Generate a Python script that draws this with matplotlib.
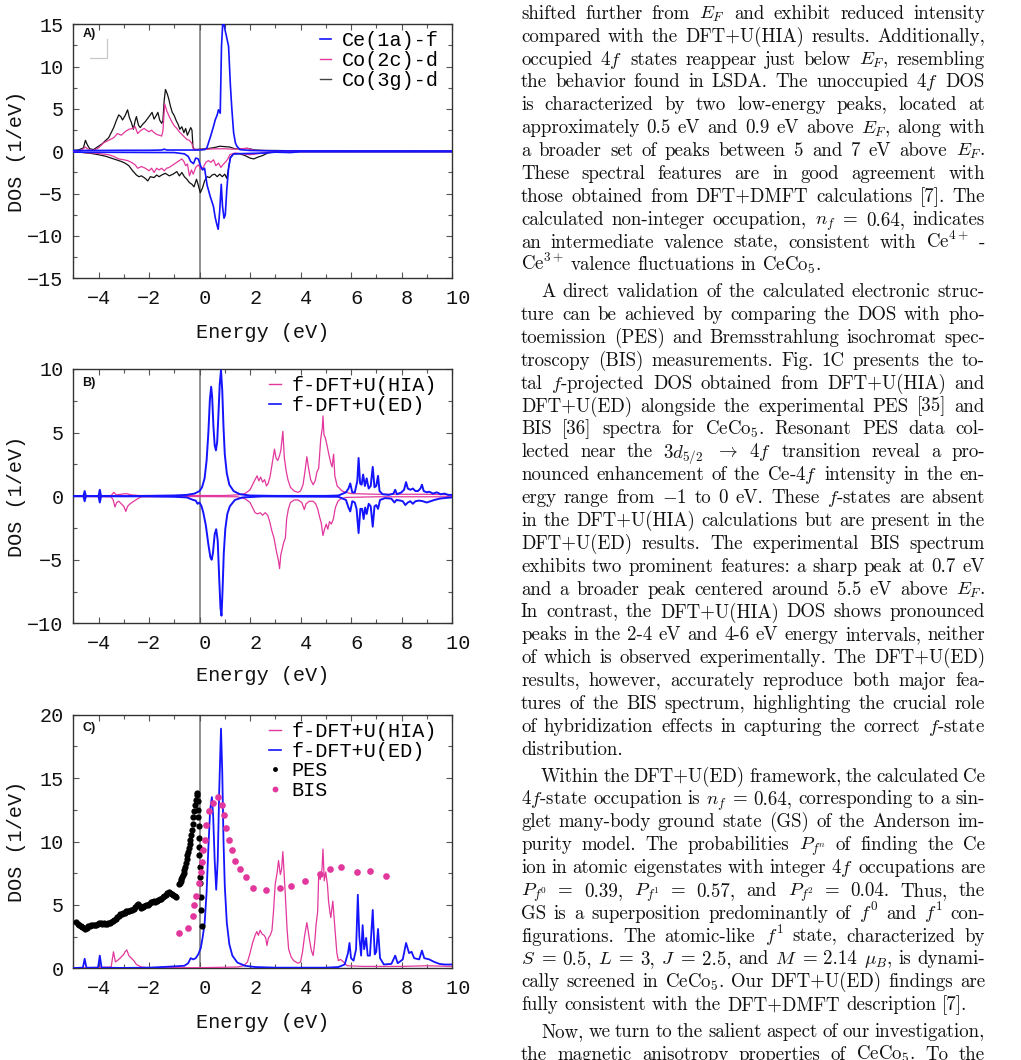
import numpy as np
import matplotlib
matplotlib.use("Agg")
import matplotlib.pyplot as plt
from matplotlib.ticker import MultipleLocator
from matplotlib.lines import Line2D

plt.rcParams['font.family'] = ['Liberation Mono', 'DejaVu Sans Mono']
plt.rcParams['mathtext.fontset'] = 'cm'
plt.rcParams['axes.unicode_minus'] = True

# ---------------- data: panel A (spin-resolved partial DOS) ----------------
ce_up_e = [-5.0, -4.0, -3.0, -2.0, -1.5, -1.4, -1.3, -0.5, 0.0, 0.2, 0.29, 0.42, 0.55, 0.62, 0.7, 0.75,
           0.82, 0.87, 0.92, 0.97, 1.02, 1.08, 1.15, 1.22, 1.28, 1.35, 1.42, 1.48, 1.6, 2.0, 3.0, 4.0, 10.0]
ce_up_v = [0.1, 0.1, 0.12, 0.12, 0.15, 0.25, 0.15, 0.15, 0.15, 0.2, 0.4, 1.6, 2.9, 3.7, 4.3, 4.9,
           4.5, 12.4, 15.2, 15.0, 14.2, 13.4, 12.4, 7.9, 5.0, 2.2, 1.0, 0.6, 0.2, 0.1, 0.05, 0.05, 0.03]
ce_dn_e = [-5.0, -1.0, -0.6, -0.45, -0.35, -0.24, -0.15, -0.05, 0.05, 0.12, 0.2, 0.3, 0.42, 0.55, 0.62,
           0.69, 0.74, 0.8, 0.86, 0.91, 0.97, 1.02, 1.08, 1.15, 1.22, 1.35, 2.0, 2.6, 3.0, 3.6, 4.0, 10.0]
ce_dn_v = [-0.1, -0.15, -0.3, -0.6, -1.2, -1.46, -0.8, -0.9, -1.8, -2.2, -2.0, -4.0, -5.3, -6.5, -7.8,
           -8.7, -9.2, -7.0, -3.9, -6.5, -7.9, -7.5, -4.5, -2.0, -0.8, -0.3, -0.25, -0.2, -0.1, -0.15, -0.05, -0.05]

co2c_up_e = [-5.0, -4.7, -4.52, -4.4, -4.2, -4.0, -3.8, -3.6, -3.4, -3.25, -3.1, -2.95, -2.8, -2.65, -2.55,
             -2.45, -2.35, -2.2, -2.1, -2.0, -1.9, -1.8, -1.7, -1.6, -1.5, -1.45, -1.38, -1.3, -1.2, -1.1,
             -1.0, -0.9, -0.8, -0.7, -0.6, -0.5, -0.4, -0.3, -0.25, -0.1, 0.3, 0.7, 1.0, 1.3, 1.6, 1.9,
             2.2, 3.0, 5.0, 7.0, 8.5, 10.0]
co2c_up_v = [0.05, 0.1, 0.5, 0.2, 0.1, 0.4, 1.0, 1.3, 1.6, 2.1, 1.9, 2.3, 2.6, 2.7, 2.9,
             2.1, 2.4, 2.7, 2.5, 2.3, 2.5, 2.2, 2.0, 1.9, 1.8, 2.4, 5.6, 4.8, 4.1, 3.5,
             3.0, 2.7, 2.3, 2.0, 1.7, 1.4, 1.3, 0.9, 0.3, 0.2, 0.25, 0.3, 0.3, 0.25, 0.3, 0.35,
             0.1, 0.05, 0.05, 0.05, 0.0, 0.05]
co2c_dn_e = [-5.0, -4.6, -4.2, -3.9, -3.6, -3.4, -3.2, -3.0, -2.85, -2.7, -2.55, -2.45, -2.3, -2.15, -2.0,
             -1.9, -1.8, -1.7, -1.6, -1.5, -1.4, -1.3, -1.2, -1.1, -1.0, -0.9, -0.8, -0.7, -0.62, -0.55,
             -0.48, -0.4, -0.32, -0.25, -0.15, -0.05, 0.05, 0.15, 0.25, 0.35, 0.45, 0.55, 0.65, 0.75,
             0.85, 0.95, 1.05, 1.12, 1.2, 1.4, 1.7, 2.0, 2.3, 2.6, 3.0, 10.0]
co2c_dn_v = [0.0, -0.15, -0.2, -0.3, -0.4, -0.6, -0.9, -1.0, -1.1, -1.3, -1.6, -2.0, -1.8, -2.0, -2.3,
             -2.0, -2.5, -2.0, -2.2, -2.0, -2.3, -2.0, -1.9, -1.7, -1.5, -1.3, -1.1, -0.9, -1.2, -1.7,
             -1.5, -2.9, -2.2, -2.7, -1.9, -1.6, -2.1, -1.9, -1.3, -1.1, -1.3, -1.0, -1.7, -1.4,
             -1.9, -1.5, -1.2, -0.9, -0.4, -0.2, -0.3, -0.4, -0.3, -0.15, -0.05, -0.05]

co3g_up_e = [-5.0, -4.8, -4.6, -4.52, -4.45, -4.35, -4.2, -4.0, -3.85, -3.75, -3.6, -3.5, -3.4, -3.3, -3.2,
             -3.12, -3.05, -2.95, -2.85, -2.78, -2.7, -2.62, -2.55, -2.5, -2.42, -2.35, -2.25, -2.15, -2.05,
             -1.95, -1.88, -1.8, -1.72, -1.65, -1.58, -1.5, -1.45, -1.4, -1.35, -1.28, -1.22, -1.15, -1.08,
             -1.0, -0.92, -0.85, -0.78, -0.7, -0.62, -0.55, -0.48, -0.42, -0.35, -0.3, -0.26, -0.2, 0.0,
             0.3, 0.6, 0.8, 1.0, 1.2, 1.4, 1.7, 1.9, 2.2, 2.6, 3.0, 4.0, 6.0, 8.0, 10.0]
co3g_up_v = [0.1, 0.15, 0.4, 1.3, 0.8, 0.3, 0.2, 0.6, 0.9, 1.2, 1.6, 2.2, 2.8, 3.6, 4.3,
             4.1, 3.7, 4.2, 4.9, 4.0, 3.4, 2.6, 3.6, 4.1, 3.1, 2.8, 3.2, 3.5, 3.9,
             4.3, 4.6, 3.8, 4.2, 4.6, 3.7, 3.3, 3.6, 6.0, 7.3, 6.8, 6.2, 5.3, 4.6,
             4.2, 3.6, 3.2, 2.6, 2.9, 2.2, 2.7, 1.9, 2.3, 2.8, 2.5, 0.5, 0.2, 0.25,
             0.3, 0.45, 0.6, 0.55, 0.5, 0.3, 0.3, 0.35, 0.15, 0.1, 0.1, 0.05, 0.05, 0.05, 0.05]
co3g_dn_e = [-5.0, -4.6, -4.3, -4.0, -3.7, -3.5, -3.3, -3.1, -2.95, -2.8, -2.65, -2.5, -2.4, -2.3, -2.15,
             -2.05, -1.95, -1.8, -1.7, -1.6, -1.5, -1.35, -1.2, -1.05, -0.9, -0.8, -0.7, -0.6, -0.5, -0.4,
             -0.3, -0.22, -0.12, -0.05, 0.03, 0.12, 0.2, 0.3, 0.4, 0.5, 0.6, 0.7, 0.8, 0.9, 1.0, 1.08,
             1.15, 1.22, 1.35, 1.6, 1.8, 2.0, 2.15, 2.3, 2.5, 2.7, 3.0, 10.0]
co3g_dn_v = [0.0, -0.15, -0.25, -0.4, -0.6, -0.8, -1.0, -1.2, -1.4, -1.7, -2.3, -2.8, -3.0, -2.9, -3.2,
             -3.5, -3.0, -3.1, -2.8, -3.0, -2.8, -2.6, -2.9, -2.7, -2.4, -2.9, -2.5, -3.0, -3.3, -3.7,
             -3.9, -4.2, -3.3, -4.0, -4.9, -4.3, -3.5, -3.0, -3.1, -2.8, -2.7, -3.0, -2.7, -3.0, -2.7, -3.2,
             -2.0, -0.7, -0.3, -0.3, -0.5, -0.8, -0.9, -0.7, -0.5, -0.2, -0.05, -0.05]

# ---------------- data: panel B (spin-resolved f DOS) ----------------
hiaB_up_e = [-5.0, -3.5, -3.4, -3.3, -3.1, -2.9, -2.7, -2.4, -1.5, 0.0, 1.0, 1.5, 1.8, 2.0, 2.1, 2.2, 2.28,
             2.35, 2.42, 2.5, 2.58, 2.65, 2.72, 2.8, 2.88, 2.97, 3.03, 3.1, 3.17, 3.22, 3.3, 3.36, 3.43,
             3.5, 3.6, 3.75, 3.9, 4.0, 4.1, 4.18, 4.25, 4.32, 4.4, 4.5, 4.58, 4.65, 4.72, 4.8, 4.86, 4.89,
             4.93, 4.98, 5.05, 5.12, 5.2, 5.25, 5.31, 5.36, 5.45, 5.55, 5.65, 5.8, 6.0, 7.0, 8.0, 9.0, 10.0]
hiaB_up_v = [0.02, 0.05, 0.3, 0.1, 0.15, 0.2, 0.1, 0.05, 0.05, 0.05, 0.05, 0.1, 0.2, 0.5, 0.9, 1.3, 1.6,
             1.2, 1.5, 1.1, 1.3, 0.8, 1.0, 1.6, 2.6, 3.7, 3.0, 2.8, 3.2, 3.6, 5.1, 3.0, 2.0,
             1.3, 0.7, 0.4, 0.3, 0.4, 0.9, 2.0, 3.1, 2.2, 1.3, 0.9, 1.2, 1.9, 2.2, 4.5, 5.3, 6.3,
             4.8, 4.6, 4.0, 3.3, 2.6, 2.3, 3.3, 1.6, 0.8, 0.6, 0.4, 0.3, 0.2, 0.15, 0.15, 0.15, 0.1]
hiaB_dn_e = [-5.0, -3.5, -3.42, -3.35, -3.28, -3.2, -3.1, -3.0, -2.92, -2.85, -2.75, -2.6, -2.45, -2.3, -1.0,
             1.5, 1.8, 2.0, 2.1, 2.2, 2.3, 2.4, 2.5, 2.6, 2.7, 2.78, 2.86, 2.95, 3.05, 3.12, 3.17, 3.22,
             3.28, 3.34, 3.4, 3.45, 3.52, 3.6, 3.75, 3.9, 4.05, 4.15, 4.22, 4.35, 4.5, 4.6, 4.68, 4.75,
             4.82, 4.89, 4.95, 5.02, 5.08, 5.15, 5.22, 5.3, 5.38, 5.48, 5.6, 5.8, 7.0, 10.0]
hiaB_dn_v = [-0.02, -0.05, -0.3, -0.85, -0.5, -0.4, -0.6, -0.8, -1.2, -0.8, -0.6, -0.4, -0.2, -0.05, -0.02,
             -0.05, -0.2, -0.5, -0.9, -1.3, -1.4, -1.3, -1.5, -1.3, -1.5, -2.0, -2.7, -3.3, -4.4, -5.0, -5.7, -4.6,
             -4.1, -3.6, -3.3, -1.8, -1.0, -0.5, -0.3, -0.3, -0.5, -1.05, -0.6, -0.4, -0.4, -0.6, -1.0, -1.6,
             -2.1, -3.1, -2.6, -2.2, -2.6, -2.0, -2.2, -1.8, -0.9, -0.4, -0.2, -0.1, -0.05, -0.05]

edB_up_e = [-5.0, -4.6, -4.55, -4.5, -4.0, -3.95, -3.9, -3.0, -2.0, -1.0, -0.5, -0.2, 0.0, 0.1, 0.2, 0.28,
            0.35, 0.41, 0.46, 0.5, 0.55, 0.6, 0.65, 0.7, 0.75, 0.8, 0.85, 0.9, 0.95, 1.0, 1.08, 1.18, 1.35,
            1.6, 2.0, 3.0, 5.0, 5.5, 5.8, 5.9, 5.97, 6.05, 6.15, 6.25, 6.3, 6.36, 6.42, 6.48, 6.55, 6.62,
            6.7, 6.78, 6.86, 6.93, 7.0, 7.07, 7.13, 7.25, 7.5, 7.68, 7.75, 7.82, 8.0, 8.1, 8.18, 8.25, 8.35,
            8.45, 8.55, 8.65, 8.75, 8.81, 8.88, 9.0, 9.1, 9.25, 9.4, 9.55, 9.7, 9.85, 10.0]
edB_up_v = [0.0, 0.0, 0.4, 0.0, 0.0, 0.5, 0.0, 0.0, 0.02, 0.05, 0.1, 0.2, 0.4, 0.7, 1.4, 2.8,
            5.0, 7.6, 8.6, 7.8, 5.5, 4.0, 3.6, 4.3, 6.5, 8.8, 9.9, 8.3, 5.4, 3.3, 1.8, 0.9, 0.4,
            0.15, 0.05, 0.02, 0.02, 0.05, 0.3, 0.6, 1.0, 0.3, 0.3, 1.2, 3.0, 1.0, 0.9, 1.7, 0.8, 1.4,
            0.6, 0.8, 2.3, 0.7, 0.8, 1.6, 0.4, 0.15, 0.1, 0.2, 0.5, 0.15, 0.3, 0.5, 1.1, 0.6, 0.5,
            0.6, 0.4, 0.4, 0.6, 0.9, 0.4, 0.3, 0.35, 0.2, 0.3, 0.15, 0.2, 0.1, 0.1]
edB_dn_e = [-5.0, -4.6, -4.55, -4.5, -4.0, -3.95, -3.9, -2.0, -1.0, -0.5, -0.25, -0.15, -0.08, 0.0, 0.08,
            0.15, 0.25, 0.35, 0.43, 0.48, 0.53, 0.6, 0.66, 0.72, 0.78, 0.83, 0.87, 0.91, 0.96, 1.02, 1.1,
            1.2, 1.4, 1.7, 2.5, 5.5, 5.8, 5.9, 5.97, 6.05, 6.15, 6.22, 6.3, 6.37, 6.44, 6.5, 6.56, 6.62,
            6.7, 6.78, 6.86, 6.93, 7.0, 7.07, 7.15, 7.35, 7.6, 7.72, 7.8, 7.95, 8.05, 8.15, 8.25, 8.35,
            8.45, 8.55, 8.7, 8.85, 9.0, 9.15, 9.3, 9.5, 9.7, 10.0]
edB_dn_v = [0.0, 0.0, -0.4, 0.0, 0.0, -0.5, 0.0, -0.02, -0.05, -0.1, -0.3, -0.35, -0.6, -0.5, -0.8,
            -1.3, -2.3, -3.8, -4.8, -5.0, -4.5, -3.0, -2.6, -3.5, -6.5, -8.8, -9.4, -7.5, -4.5, -2.6, -1.4,
            -0.8, -0.3, -0.1, -0.02, -0.05, -0.3, -0.9, -1.2, -0.4, -0.5, -1.0, -2.9, -1.0, -1.0, -1.8, -0.9, -1.4,
            -0.6, -0.8, -2.4, -0.8, -0.7, -1.0, -0.3, -0.15, -0.2, -0.5, -0.3, -0.35, -0.4, -0.7, -0.5, -0.4,
            -0.6, -0.4, -0.35, -0.4, -0.5, -0.4, -0.3, -0.2, -0.15, -0.1]

# ---------------- data: panel C (total f DOS + experiment) ----------------
hiaC_e = [-5.0, -3.5, -3.41, -3.33, -3.2, -3.1, -3.0, -2.95, -2.88, -2.8, -2.7, -2.6, -2.5, -2.3, -2.0, 0.0,
          1.5, 1.75, 1.9, 2.0, 2.1, 2.2, 2.27, 2.33, 2.4, 2.48, 2.56, 2.62, 2.67, 2.73, 2.8, 2.87, 2.93,
          3.0, 3.07, 3.13, 3.2, 3.25, 3.3, 3.35, 3.4, 3.47, 3.53, 3.63, 3.73, 3.9, 4.0, 4.08, 4.15, 4.25,
          4.3, 4.36, 4.43, 4.5, 4.56, 4.62, 4.68, 4.72, 4.78, 4.85, 4.89, 4.94, 5.0, 5.07, 5.11, 5.16,
          5.2, 5.28, 5.33, 5.38, 5.44, 5.5, 5.58, 5.65, 5.75, 5.85, 6.5, 8.0, 9.0, 10.0]
hiaC_v = [0.02, 0.1, 1.3, 0.5, 0.7, 0.9, 1.1, 1.3, 1.45, 1.0, 0.8, 0.6, 0.3, 0.1, 0.05, 0.05,
          0.1, 0.2, 0.5, 1.2, 2.0, 2.6, 2.9, 2.6, 3.0, 2.7, 2.6, 2.4, 1.8, 2.4, 2.6, 3.0, 4.5,
          6.7, 7.5, 8.5, 7.4, 7.8, 9.2, 7.5, 5.7, 3.0, 1.5, 0.9, 0.6, 0.4, 0.5, 1.3, 2.4, 3.6,
          3.0, 2.2, 1.4, 1.0, 2.0, 3.5, 4.5, 7.4, 7.0, 7.8, 9.4, 6.9, 7.6, 6.5, 5.3, 4.5,
          4.0, 5.3, 4.0, 2.7, 1.2, 0.6, 0.7, 0.6, 0.4, 0.2, 0.15, 0.15, 0.2, 0.15]
edC_e = [-5.0, -4.62, -4.55, -4.48, -4.02, -3.95, -3.88, -3.0, -2.0, -1.5, -1.0, -0.6, -0.45, -0.35, -0.25,
         -0.15, -0.05, 0.05, 0.12, 0.2, 0.28, 0.35, 0.42, 0.49, 0.54, 0.6, 0.66, 0.72, 0.78, 0.85, 0.9,
         0.95, 1.0, 1.08, 1.18, 1.3, 1.5, 1.8, 2.2, 3.0, 5.0, 5.5, 5.75, 5.88, 5.94, 6.0, 6.1, 6.2, 6.27,
         6.33, 6.4, 6.46, 6.52, 6.6, 6.66, 6.75, 6.86, 6.94, 7.0, 7.07, 7.15, 7.3, 7.6, 7.75, 7.85, 8.05,
         8.18, 8.3, 8.4, 8.5, 8.7, 8.81, 8.9, 9.1, 9.3, 9.5, 9.7, 10.0]
edC_v = [0.02, 0.05, 0.75, 0.05, 0.05, 1.0, 0.05, 0.03, 0.05, 0.1, 0.15, 0.2, 0.4, 0.8, 0.7,
         0.8, 1.1, 1.6, 2.4, 3.5, 6.0, 9.5, 12.5, 13.5, 12.0, 8.5, 6.2, 8.5, 14.0, 18.9, 15.5,
         10.0, 6.5, 3.6, 1.9, 1.0, 0.45, 0.2, 0.1, 0.05, 0.05, 0.1, 0.3, 1.2, 2.0, 0.8, 0.6, 1.5, 5.8,
         2.5, 1.0, 3.4, 1.5, 2.4, 1.0, 1.0, 4.6, 1.1, 1.3, 3.1, 0.8, 0.3, 0.35, 1.0, 0.4, 0.7,
         2.0, 1.2, 1.3, 0.8, 0.7, 1.4, 0.8, 0.7, 0.5, 0.35, 0.3, 0.3]

pes_e = [-4.88, -4.82, -4.76, -4.70, -4.64, -4.58, -4.52, -4.46, -4.40, -4.34, -4.28, -4.22, -4.16, -4.10,
         -4.04, -3.98, -3.92, -3.86, -3.80, -3.74, -3.68, -3.62, -3.56, -3.50, -3.44, -3.38, -3.32, -3.26,
         -3.20, -3.14, -3.08, -3.02, -2.96, -2.90, -2.84, -2.78, -2.72, -2.66, -2.60, -2.54, -2.48, -2.42,
         -2.36, -2.30, -2.24, -2.18, -2.12, -2.06, -2.00, -1.94, -1.88, -1.82, -1.76, -1.70, -1.64, -1.58,
         -1.52, -1.46, -1.40, -1.34, -1.28, -1.22, -1.16, -1.10, -1.04, -0.98, -0.92,
         -0.83, -0.79, -0.75, -0.72, -0.69, -0.66, -0.63, -0.60, -0.57, -0.54, -0.51, -0.48, -0.45, -0.42,
         -0.39, -0.36, -0.33, -0.30, -0.27, -0.24, -0.21, -0.18, -0.15, -0.12, -0.10, -0.08, -0.06, -0.05,
         -0.04, -0.03, -0.02, -0.01, 0.00, 0.02, 0.03, 0.05, 0.07, 0.10]
pes_v = [3.63, 3.5, 3.4, 3.3, 3.25, 3.15, 3.1, 3.15, 3.3, 3.35, 3.4, 3.4, 3.45, 3.45,
         3.5, 3.55, 3.55, 3.5, 3.55, 3.5, 3.5, 3.55, 3.6, 3.65, 3.75, 3.8, 3.9, 4.05,
         4.15, 4.25, 4.3, 4.35, 4.4, 4.5, 4.5, 4.55, 4.6, 4.6, 4.65, 4.8, 5.0, 5.1,
         4.9, 4.75, 4.8, 4.9, 5.0, 5.0, 5.1, 5.2, 5.25, 5.3, 5.25, 5.3, 5.35, 5.45,
         5.5, 5.6, 5.7, 5.8, 5.95, 6.0, 5.9, 5.85, 5.75, 5.7, 5.65,
         6.65, 6.75, 6.9, 7.05, 7.2, 7.35, 7.55, 7.75, 7.95, 8.3, 8.6, 8.9, 9.2, 9.5,
         9.8, 10.1, 10.5, 10.9, 11.4, 11.9, 12.4, 12.9, 13.3, 13.7, 13.8, 13.2, 12.5, 11.9,
         11.2, 10.3, 9.6, 8.9, 8.0, 7.2, 6.7, 5.6, 4.6, 3.3]
bis_e = [-0.81, -0.46, -0.26, -0.23, -0.15, -0.02, 0.05, 0.09, 0.13, 0.2, 0.27, 0.38, 0.52, 0.72, 0.89,
         0.97, 1.04, 1.17, 1.28, 1.42, 1.61, 1.85, 2.1, 2.63, 3.19, 3.63, 4.16, 4.78, 5.17, 5.6, 6.25,
         6.77, 7.38]
bis_v = [2.8, 3.2, 4.1, 5.0, 5.7, 6.7, 7.6, 8.4, 9.3, 10.1, 11.3, 12.4, 13.0, 13.5, 12.9,
         12.1, 11.1, 10.1, 9.3, 8.5, 7.8, 7.2, 6.3, 6.2, 6.3, 6.5, 6.85, 7.4, 7.8, 8.0, 7.6,
         7.7, 7.3]

x_ticks = [-4, -2, 0, 2, 4, 6, 8, 10]
x_labels = ['\u22124', '\u22122', ' 0', ' 2', ' 4', ' 6', ' 8', ' 10']

BLUE = '#1414ff'
PINK = '#e2379c'
BLACK = '#111111'

# ---------------- figure ----------------
W, H = 1021, 1060
fig = plt.figure(figsize=(W / 100, H / 100), dpi=100)


def px_axes(left, top, right, bottom):
    return fig.add_axes([left / W, 1 - bottom / H, (right - left) / W, (bottom - top) / H])


def style(ax, ylim, ystep, label, label_y):
    ax.set_xlim(-5, 10)
    ax.set_ylim(*ylim)
    ax.set_xticks(x_ticks, x_labels)
    ax.xaxis.set_minor_locator(MultipleLocator(1))
    yt = np.arange(ylim[0], ylim[1] + 0.1, ystep)
    ax.set_yticks(yt, [f'{int(v)}'.replace('-', '\u2212') for v in yt])
    ax.yaxis.set_minor_locator(MultipleLocator(ystep / 2))
    ax.tick_params(which='both', direction='in', top=True, right=True, color='#555555', width=0.8,
                   labelsize=14.5, labelcolor='#111111')
    ax.tick_params(which='major', length=4.5)
    ax.tick_params(which='minor', length=3.0)
    ax.tick_params(axis='x', pad=8)
    ax.tick_params(axis='y', pad=7)
    for s in ax.spines.values():
        s.set_color('#333333')
        s.set_linewidth(1.0)
    ax.axvline(0, color='#808080', lw=1.2, zorder=1)
    ax.set_xlabel('Energy (eV)', fontsize=14.5, color='#111111', va='center')
    ax.set_ylabel('DOS (1/eV)', fontsize=14.5, color='#111111', va='center')
    ax.xaxis.set_label_coords(0.5, label_y)
    ax.yaxis.set_label_coords(-0.150, 0.5)
    ax.text(0.024, {'A)': 0.961, 'B)': 0.943, 'C)': 0.949}[label], label, transform=ax.transAxes,
            fontsize=9, fontweight='bold', family=['Liberation Sans', 'DejaVu Sans'], va='center', ha='left',
            color='#111111')


def add_legend(ax, handles, labels, x0):
    ax.legend(handles, labels, loc='upper left', bbox_to_anchor=(x0, 0.972), frameon=False, fontsize=14.5,
              handlelength=0.55, handletextpad=0.55, labelspacing=0.04, borderpad=0, borderaxespad=0)


axA = px_axes(73.3, 24.3, 452, 278.3)
axB = px_axes(73.3, 369, 452, 623.3)
axC = px_axes(73.3, 714.7, 452, 968.3)

# Panel A
style(axA, (-15, 15), 5, 'A)', -0.213)
axA.plot(co3g_up_e, co3g_up_v, color=BLACK, lw=0.9, zorder=2)
axA.plot(co3g_dn_e, co3g_dn_v, color=BLACK, lw=0.9, zorder=2)
axA.plot(co2c_up_e, co2c_up_v, color=PINK, lw=0.9, zorder=3)
axA.plot(co2c_dn_e, co2c_dn_v, color=PINK, lw=0.9, zorder=3)
axA.plot(ce_up_e, ce_up_v, color=BLUE, lw=1.2, zorder=4)
axA.plot(ce_dn_e, ce_dn_v, color=BLUE, lw=1.2, zorder=4)
axA.add_line(Line2D([0.0449, 0.0897, 0.0897], [0.866, 0.866, 0.941], transform=axA.transAxes,
                    color='#c8c8c8', lw=0.9))
hA = [Line2D([], [], color=BLUE, lw=1.2), Line2D([], [], color=PINK, lw=1.0), Line2D([], [], color='#444444', lw=1.0)]
add_legend(axA, hA, ['Ce(1a)-f', 'Co(2c)-d', 'Co(3g)-d'], 0.651)

# Panel B
style(axB, (-10, 10), 5, 'B)', -0.205)
axB.plot(hiaB_up_e, hiaB_up_v, color=PINK, lw=0.9, zorder=3)
axB.plot(hiaB_dn_e, hiaB_dn_v, color=PINK, lw=0.9, zorder=3)
axB.plot(edB_up_e, edB_up_v, color=BLUE, lw=1.4, zorder=4)
axB.plot(edB_dn_e, edB_dn_v, color=BLUE, lw=1.4, zorder=4)
hB = [Line2D([], [], color=PINK, lw=1.0), Line2D([], [], color=BLUE, lw=1.2)]
add_legend(axB, hB, ['f-DFT+U(HIA)', 'f-DFT+U(ED)'], 0.518)

# Panel C
style(axC, (0, 20), 5, 'C)', -0.213)
axC.plot(hiaC_e, hiaC_v, color=PINK, lw=0.9, zorder=3)
axC.plot(edC_e, edC_v, color=BLUE, lw=1.3, zorder=4)
axC.plot(pes_e, pes_v, 'o', color='black', ms=4.5, mec='none', zorder=5)
axC.plot(bis_e, bis_v, 'o', color=PINK, ms=4.8, mec='none', zorder=5)
hC = [Line2D([], [], color=PINK, lw=1.0), Line2D([], [], color=BLUE, lw=1.2),
      Line2D([], [], color='black', marker='o', ls='none', ms=3.5, mec='none'),
      Line2D([], [], color=PINK, marker='o', ls='none', ms=4.2, mec='none')]
add_legend(axC, hC, ['f-DFT+U(HIA)', 'f-DFT+U(ED)', 'PES', 'BIS'], 0.518)

# ---------------- text column ----------------
paragraphs = [
    [
        r"shifted further from $E_F$ and exhibit reduced intensity",
        r"compared with the DFT+U(HIA) results. Additionally,",
        r"occupied $4f$ states reappear just below $E_F$, resembling",
        r"the behavior found in LSDA. The unoccupied $4f$ DOS",
        r"is characterized by two low-energy peaks, located at",
        r"approximately 0.5 eV and 0.9 eV above $E_F$, along with",
        r"a broader set of peaks between 5 and 7 eV above $E_F$.",
        r"These spectral features are in good agreement with",
        r"those obtained from DFT+DMFT calculations [7]. The",
        r"calculated non-integer occupation, $n_f$ = 0.64, indicates",
        r"an intermediate valence state, consistent with Ce$^{4+}$ -",
        r"Ce$^{3+}$ valence fluctuations in CeCo$_5$.",
    ],
    [
        r"A direct validation of the calculated electronic struc-",
        r"ture can be achieved by comparing the DOS with pho-",
        r"toemission (PES) and Bremsstrahlung isochromat spec-",
        r"troscopy (BIS) measurements. Fig. 1C presents the to-",
        r"tal $f$-projected DOS obtained from DFT+U(HIA) and",
        r"DFT+U(ED) alongside the experimental PES [35] and",
        r"BIS [36] spectra for CeCo$_5$. Resonant PES data col-",
        r"lected near the $3d_{5/2}$ $\rightarrow$ $4f$ transition reveal a pro-",
        r"nounced enhancement of the Ce-$4f$ intensity in the en-",
        r"ergy range from $-1$ to 0 eV. These $f$-states are absent",
        r"in the DFT+U(HIA) calculations but are present in the",
        r"DFT+U(ED) results. The experimental BIS spectrum",
        r"exhibits two prominent features: a sharp peak at 0.7 eV",
        r"and a broader peak centered around 5.5 eV above $E_F$.",
        r"In contrast, the DFT+U(HIA) DOS shows pronounced",
        r"peaks in the 2-4 eV and 4-6 eV energy intervals, neither",
        r"of which is observed experimentally. The DFT+U(ED)",
        r"results, however, accurately reproduce both major fea-",
        r"tures of the BIS spectrum, highlighting the crucial role",
        r"of hybridization effects in capturing the correct $f$-state",
        r"distribution.",
    ],
    [
        r"Within the DFT+U(ED) framework, the calculated Ce",
        r"$4f$-state occupation is $n_f$ = 0.64, corresponding to a sin-",
        r"glet many-body ground state (GS) of the Anderson im-",
        r"purity model. The probabilities $P_{f^n}$ of finding the Ce",
        r"ion in atomic eigenstates with integer $4f$ occupations are",
        r"$P_{f^0}$ = 0.39, $P_{f^1}$ = 0.57, and $P_{f^2}$ = 0.04. Thus, the",
        r"GS is a superposition predominantly of $f^0$ and $f^1$ con-",
        r"figurations. The atomic-like $f^1$ state, characterized by",
        r"$S$ = 0.5, $L$ = 3, $J$ = 2.5, and $M$ = 2.14 $\mu_B$, is dynami-",
        r"cally screened in CeCo$_5$. Our DFT+U(ED) findings are",
        r"fully consistent with the DFT+DMFT description [7].",
    ],
    [
        r"Now, we turn to the salient aspect of our investigation,",
        r"the magnetic anisotropy properties of CeCo$_5$. To the",
    ],
]

renderer = fig.canvas.get_renderer()
Y0, STEP, PSKIP, BASE = 13.3, 22.87, 4.0, 5.5
XL, XR, IND = 521.0, 985.0, 20.0
TFS = 13.6
n = 0
for pi, lines in enumerate(paragraphs):
    for li, line in enumerate(lines):
        yb = Y0 + n * STEP + pi * PSKIP + BASE
        words = line.split(' ')
        xs = XL + (IND if (li == 0 and pi > 0) else 0.0)
        texts = [fig.text(0, 1 - yb / H, w, fontsize=TFS, family='cmr10', va='baseline', ha='left',
                          color='#111111') for w in words]
        widths = [t.get_window_extent(renderer).width for t in texts]
        is_last = (li == len(lines) - 1) and (pi != len(paragraphs) - 1)
        if is_last or len(words) == 1:
            gap = 6.2
        else:
            gap = (XR - xs - sum(widths)) / (len(words) - 1)
        x = xs
        for t, wd in zip(texts, widths):
            t.set_x(x / W)
            x += wd + gap
        n += 1

fig.savefig('out.png', dpi=100)
